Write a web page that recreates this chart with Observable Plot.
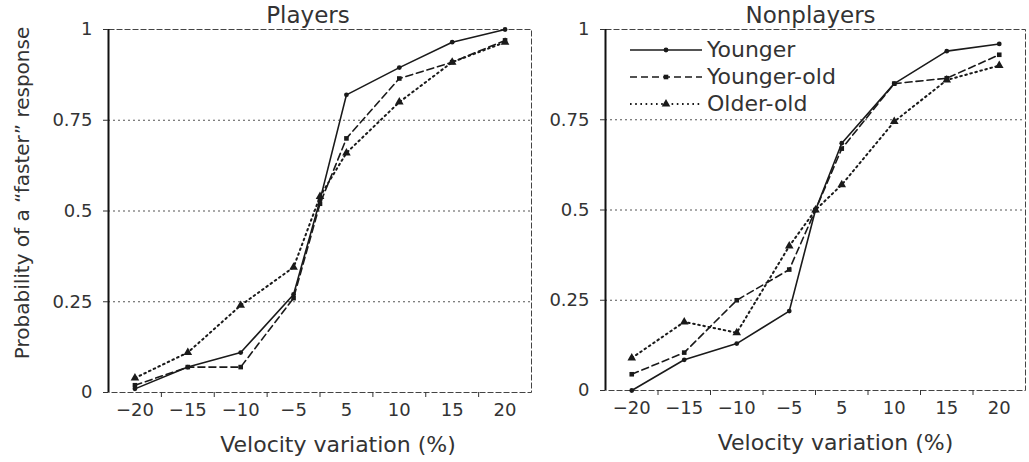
<!DOCTYPE html>
<html><head><meta charset="utf-8">
<script src="https://cdn.jsdelivr.net/npm/d3@7"></script>
<script src="https://cdn.jsdelivr.net/npm/@observablehq/plot@0.6"></script>
<style>
html,body{margin:0;padding:0;background:#fff;}
#wrap{position:relative;width:1029px;height:462px;overflow:hidden;font-family:"DejaVu Sans",sans-serif;}
#left{position:absolute;left:0;top:0;}
#right{position:absolute;left:540px;top:0;}
#legend{position:absolute;left:628px;top:36px;}
#legend .row{display:flex;align-items:center;height:27px;}
#legend span{font-size:22px;color:#333;margin-left:3px;line-height:27px;}
</style></head><body>
<div id="wrap"><div id="left"></div><div id="right"></div><div id="legend"></div></div>
<script>
// ---- data ----
const velocities = [-20, -15, -10, -5, 0, 5, 10, 15, 20];
const tickLabels = [-20, -15, -10, -5, 5, 10, 15, 20];
const yTicks = [0, 0.25, 0.5, 0.75, 1];
const gridValues = [0.25, 0.5, 0.75];
const groups = ["Younger", "Younger-old", "Older-old"];

const playersYounger    = [0.01, 0.07, 0.11, 0.27, 0.53, 0.82, 0.895, 0.965, 1.00];
const playersYoungerOld = [0.02, 0.07, 0.07, 0.26, 0.52, 0.70, 0.865, 0.91, 0.97];
const playersOlderOld   = [0.04, 0.11, 0.24, 0.345, 0.54, 0.66, 0.80, 0.91, 0.965];

const nonYounger    = [0.00, 0.085, 0.13, 0.22, 0.50, 0.685, 0.85, 0.94, 0.96];
const nonYoungerOld = [0.045, 0.105, 0.25, 0.335, 0.50, 0.67, 0.85, 0.865, 0.93];
const nonOlderOld   = [0.09, 0.19, 0.16, 0.40, 0.50, 0.57, 0.745, 0.86, 0.90];

// ---- scale configuration (category-like axis, 8 equal bands) ----
const xDomain = [-22.5, -5, 5, 22.5];
const bandEdges = [-17.5, -12.5, -7.5, 0, 7.5, 12.5, 17.5];

const styles = {
  "Younger":     {dash: null,      symbol: "circle",   r: 2.4, sw: 1.6},
  "Younger-old": {dash: "7,4",     symbol: "square",   r: 2.6, sw: 1.6},
  "Older-old":   {dash: "1.6,3.6", symbol: "triangle", r: 3.2, sw: 2}
};

function rows(values, group) {
  return velocities.map((v, i) => ({velocity: v, p: values[i], group}));
}
const fmtX = d => d < 0 ? "\u2212" + (-d) : String(d);
const fmtY = d => String(d);

function panel({title, width, marginLeft, marginRight, marginTop, marginBottom, series, yLabel, titleDx, xLabelDx}) {
  const L = marginLeft, R = width - marginRight, bw = (R - L) / 8;
  const height = 462;
  const marks = [
    Plot.gridY(gridValues, {stroke: "#555", strokeOpacity: 1, strokeDasharray: "2,3"}),
    Plot.frame({stroke: "#444", strokeDasharray: "6,2"}),
    Plot.ruleX([xDomain[0]], {stroke: "#111", strokeWidth: 2}),
    Plot.axisY({ticks: yTicks, tickFormat: fmtY, tickSize: 5, tickPadding: 11, fontSize: 18, label: null, stroke: "#333"}),
    Plot.axisX({ticks: tickLabels, tickFormat: fmtX, tickSize: 0, tickPadding: 11, fontSize: 18, label: null}),
    Plot.axisX({ticks: bandEdges, tickFormat: () => "", tickSize: 5, label: null, stroke: "#333"})
  ];
  for (const [group, values] of series) {
    const s = styles[group];
    const data = rows(values, group);
    marks.push(Plot.line(data, {x: "velocity", y: "p", stroke: "#1a1a1a", strokeWidth: s.sw, strokeDasharray: s.dash}));
    marks.push(Plot.dot(data, {x: "velocity", y: "p", fill: "#1a1a1a", stroke: "none", symbol: s.symbol, r: s.r}));
  }
  marks.push(Plot.text([title], {frameAnchor: "top", dy: -14, dx: titleDx, fontSize: 23, fill: "#333", lineAnchor: "middle"}));
  marks.push(Plot.text(["Velocity variation (%)"], {frameAnchor: "bottom", dy: 52, dx: xLabelDx, fontSize: 22, fill: "#333", lineAnchor: "middle"}));
  if (yLabel) {
    marks.push(Plot.text([yLabel], {frameAnchor: "left", textAnchor: "middle", dx: -86, dy: -18, rotate: -90, fontSize: 20, fill: "#333", lineAnchor: "middle"}));
  }
  return Plot.plot({
    width, height, marginLeft, marginRight, marginTop, marginBottom,
    style: {fontFamily: "DejaVu Sans", fontSize: "18px", color: "#333", background: "white", overflow: "visible"},
    x: {type: "linear", domain: xDomain, range: [L, L + 3.5 * bw, L + 4.5 * bw, R]},
    y: {domain: [0, 1]},
    marks
  });
}

document.getElementById("left").appendChild(panel({
  title: "Players", width: 540, marginLeft: 108, marginRight: 9, marginTop: 29, marginBottom: 70,
  series: [["Younger", playersYounger], ["Younger-old", playersYoungerOld], ["Older-old", playersOlderOld]],
  yLabel: "Probability of a \u201cfaster\u201d response", titleDx: -12, xLabelDx: 18
}));
document.getElementById("right").appendChild(panel({
  title: "Nonplayers", width: 489, marginLeft: 65, marginRight: 4, marginTop: 29, marginBottom: 72,
  series: [["Younger", nonYounger], ["Younger-old", nonYoungerOld], ["Older-old", nonOlderOld]],
  yLabel: null, titleDx: -5, xLabelDx: 20
}));

// ---- legend ----
const legend = document.getElementById("legend");
const sym = {circle: d3.symbolCircle, square: d3.symbolSquare, triangle: d3.symbolTriangle};
for (const g of groups) {
  const s = styles[g];
  const row = document.createElement("div");
  row.className = "row";
  const svg = d3.create("svg").attr("width", 76).attr("height", 20);
  svg.append("line").attr("x1", 2).attr("x2", 74).attr("y1", 10).attr("y2", 10)
    .attr("stroke", "#1a1a1a").attr("stroke-width", s.sw).attr("stroke-dasharray", s.dash);
  svg.append("path").attr("transform", "translate(38,10)")
    .attr("d", d3.symbol(sym[s.symbol], Math.PI * s.r * s.r)()).attr("fill", "#1a1a1a");
  row.appendChild(svg.node());
  const span = document.createElement("span");
  span.textContent = g;
  row.appendChild(span);
  legend.appendChild(row);
}
</script>
</body></html>
